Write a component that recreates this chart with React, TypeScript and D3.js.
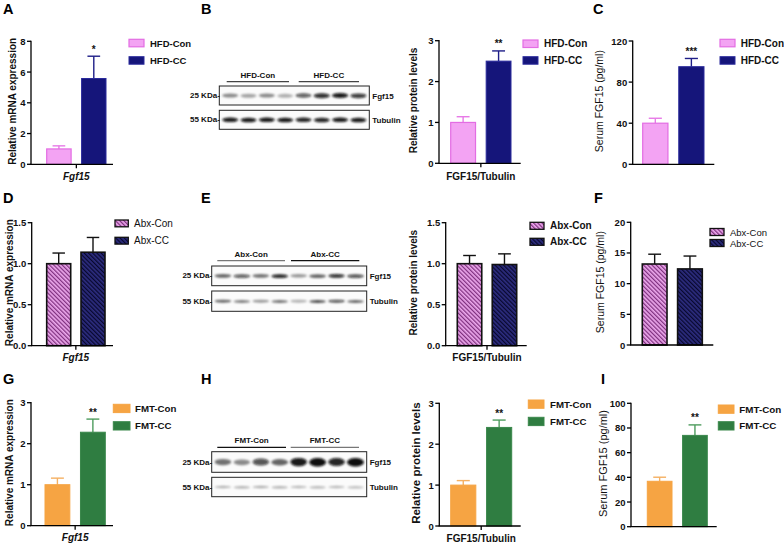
import React from "react";
import * as d3 from "d3";

const FONT = "'Liberation Sans', Arial, Helvetica, sans-serif";

// ---------- groups ----------
const hfdGroups = ["HFD-Con", "HFD-CC"];
const abxGroups = ["Abx-Con", "Abx-CC"];
const fmtGroups = ["FMT-Con", "FMT-CC"];

// ---------- A: HFD mRNA ----------
const hfdMrna = [1.0, 5.58];
const hfdMrnaErr = [0.2, 1.45];
const hfdMrnaTicks = [0, 2, 4, 6, 8];
// ---------- B: HFD protein ----------
const hfdProtein = [1.0, 2.5];
const hfdProteinErr = [0.14, 0.25];
const hfdProteinTicks = [0, 1, 2, 3];
// ---------- C: HFD serum ----------
const hfdSerum = [40, 95];
const hfdSerumErr = [4.8, 8];
const hfdSerumTicks = [0, 40, 80, 120];
// ---------- D: Abx mRNA ----------
const abxMrna = [1.0, 1.14];
const abxMrnaErr = [0.13, 0.18];
const abxMrnaTicks = [0, 0.5, 1.0, 1.5];
// ---------- E: Abx protein ----------
const abxProtein = [1.0, 0.99];
const abxProteinErr = [0.1, 0.13];
const abxProteinTicks = [0, 0.5, 1.0, 1.5];
// ---------- F: Abx serum ----------
const abxSerum = [13.2, 12.4];
const abxSerumErr = [1.6, 2.1];
const abxSerumTicks = [0, 5, 10, 15, 20];
// ---------- G: FMT mRNA ----------
const fmtMrna = [1.0, 2.28];
const fmtMrnaErr = [0.16, 0.32];
const fmtMrnaTicks = [0, 1, 2, 3];
// ---------- H: FMT protein ----------
const fmtProtein = [1.0, 2.41];
const fmtProteinErr = [0.11, 0.18];
const fmtProteinTicks = [0, 1, 2, 3];
// ---------- I: FMT serum ----------
const fmtSerum = [36.8, 74];
const fmtSerumErr = [3.3, 8.5];
const fmtSerumTicks = [0, 20, 40, 60, 80, 100];

// significance marks
const sigA = "*";
const sigB = "**";
const sigC = "***";
const sigG = "**";
const sigH = "**";
const sigI = "**";

// ---------- western blot band intensities (8 lanes) ----------
const hfdBlotFgf15 = [0.45, 0.35, 0.45, 0.3, 0.65, 0.85, 0.95, 0.8];
const hfdBlotTubulin = [0.95, 0.95, 0.95, 0.95, 0.9, 0.9, 0.95, 0.95];
const abxBlotFgf15 = [0.6, 0.65, 0.55, 0.9, 0.4, 0.6, 0.85, 0.7];
const abxBlotTubulin = [0.6, 0.5, 0.4, 0.55, 0.3, 0.7, 0.7, 0.6];
const fmtBlotFgf15 = [0.55, 0.45, 0.7, 0.6, 0.95, 1, 0.9, 1];
const fmtBlotTubulin = [0.3, 0.3, 0.32, 0.3, 0.28, 0.28, 0.28, 0.25];

type GStyle = { fill: string; stroke: string; sw: number; err: string };

const hfdStyles: GStyle[] = [
  { fill: "#F3A3F3", stroke: "#E36DE3", sw: 1.2, err: "#E77AE7" },
  { fill: "#15157A", stroke: "#2A2A9C", sw: 1.0, err: "#1E1E88" },
];
const abxStyles: GStyle[] = [
  { fill: "url(#hatchPink)", stroke: "#111", sw: 1.6, err: "#111" },
  { fill: "url(#hatchNavy)", stroke: "#111", sw: 1.6, err: "#111" },
];
const fmtStyles: GStyle[] = [
  { fill: "#F6A443", stroke: "#F6A443", sw: 1.0, err: "#F5B062" },
  { fill: "#2F7D41", stroke: "#3A874B", sw: 1.0, err: "#4E9C5E" },
];

function BarPanel(p: any) {
  const y = d3.scaleLinear().domain([0, p.max]).range([p.yBot, p.yTop]);
  const x = d3
    .scaleBand<string>()
    .domain(p.groups)
    .range([p.barL, p.barR])
    .paddingInner(0.3)
    .paddingOuter(0);
  const bw = x.bandwidth();
  const mid = (x(p.groups[0])! + bw + x(p.groups[1])!) / 2;
  const fmt = p.fmt || ((d: number) => String(d));
  const tickFs = p.tickFs || 9.5;
  return (
    <g>
      {p.groups.map((g: string, i: number) => {
        const st: GStyle = p.styles[i];
        const v = p.values[i];
        const e = p.errs[i];
        const cx = x(g)! + bw / 2;
        const cap = bw * 0.26;
        return (
          <g key={g}>
            <line x1={cx} x2={cx} y1={y(v)} y2={y(v + e)} stroke={st.err} strokeWidth={1.4} />
            <line x1={cx - cap} x2={cx + cap} y1={y(v + e)} y2={y(v + e)} stroke={st.err} strokeWidth={1.4} />
            <rect
              x={x(g)!}
              y={y(v)}
              width={bw}
              height={p.yBot - y(v)}
              fill={st.fill}
              stroke={st.stroke}
              strokeWidth={st.sw}
            />
            {p.sig && i === 1 ? (
              <text
                x={cx}
                y={y(v + e) - 3.5}
                textAnchor="middle"
                fontFamily={FONT}
                fontWeight="bold"
                fontSize={10}
                fill="#111"
              >
                {p.sig}
              </text>
            ) : null}
          </g>
        );
      })}
      <line x1={p.x0} x2={p.x0} y1={p.yTop - 0.6} y2={p.yBot} stroke="#000" strokeWidth={1.3} />
      {p.ticks.map((t: number) => (
        <g key={t}>
          <line x1={p.x0 - 4} x2={p.x0} y1={y(t)} y2={y(t)} stroke="#000" strokeWidth={1.3} />
          <text
            x={p.x0 - 5.5}
            y={y(t)}
            textAnchor="end"
            dominantBaseline="central"
            fontFamily={FONT}
            fontWeight="bold"
            fontSize={tickFs}
            fill="#111"
          >
            {fmt(t)}
          </text>
        </g>
      ))}
      <line x1={p.x0 - 0.65} x2={p.xEnd} y1={p.yBot} y2={p.yBot} stroke="#000" strokeWidth={1.3} />
      {p.xLabel ? (
        <>
          <line x1={mid} x2={mid} y1={p.yBot} y2={p.yBot + 4} stroke="#000" strokeWidth={1.3} />
          <text
            x={mid}
            y={p.xLabelY}
            textAnchor="middle"
            dominantBaseline="central"
            fontFamily={FONT}
            fontWeight="bold"
            fontStyle={p.xLabelItalic ? "italic" : "normal"}
            fontSize={10}
            fill="#111"
          >
            {p.xLabel}
          </text>
        </>
      ) : null}
      <text
        transform={`translate(${p.titleX},${(p.yTop + p.yBot) / 2 - 1.5}) rotate(-90)`}
        textAnchor="middle"
        dominantBaseline="central"
        fontFamily={FONT}
        fontWeight={p.titleWeight || "bold"}
        fontSize={p.titleFs || 10}
        fill="#111"
      >
        {p.title}
      </text>
      {p.groups.map((g: string, i: number) => {
        const st: GStyle = p.styles[i];
        const ly = p.legYs[i];
        return (
          <g key={"l" + g}>
            <rect
              x={p.legX}
              y={ly}
              width={p.legW}
              height={p.legH}
              fill={st.fill}
              stroke={st.stroke}
              strokeWidth={Math.min(st.sw, 1.3)}
            />
            <text
              x={p.legTextX}
              y={ly + p.legH / 2}
              dominantBaseline="central"
              fontFamily={FONT}
              fontWeight={p.legWeight || "bold"}
              fontSize={p.legFs || 10}
              fill="#111"
            >
              {g}
            </text>
          </g>
        );
      })}
    </g>
  );
}

function Blot(p: any) {
  const lanes = d3
    .scaleBand<number>()
    .domain(d3.range(8))
    .range([p.boxL + 1, p.boxR - 1])
    .paddingInner(0.12)
    .paddingOuter(0.1);
  const bw = lanes.bandwidth();
  const rows = [
    { t: p.box1[0], b: p.box1[1], vals: p.fgf, h: p.fgfH, label: "Fgf15", kda: "25 KDa-" },
    { t: p.box2[0], b: p.box2[1], vals: p.tub, h: p.tubH, label: "Tubulin", kda: "55 KDa-" },
  ];
  return (
    <g fontFamily={FONT} fontWeight="bold" fill="#111">
      {p.headers.map((h: string, i: number) => {
        const [a, b] = p.segs[i];
        return (
          <g key={h}>
            <text x={(a + b) / 2} y={p.headY} textAnchor="middle" dominantBaseline="central" fontSize={8}>
              {h}
            </text>
            <line x1={a} x2={b} y1={p.lineY} y2={p.lineY} stroke={p.segColors[i]} strokeWidth={1.3} />
          </g>
        );
      })}
      {rows.map((r, ri) => {
        const cy = (r.t + r.b) / 2;
        return (
          <g key={ri}>
            <rect x={p.boxL} y={r.t} width={p.boxR - p.boxL} height={r.b - r.t} fill="#fbfbfb" stroke="#222" strokeWidth={1} />
            <g filter="url(#bandBlur)">
              {r.vals.map((v: number, i: number) => (
                <ellipse
                  key={i}
                  cx={lanes(i)! + bw / 2}
                  cy={cy + (i % 2 === 0 ? 0 : 0.3)}
                  rx={bw / 2}
                  ry={r.h / 2 + (ri === 0 ? v * p.fgfGrow : 0)}
                  fill="#0a0a0a"
                  opacity={v}
                />
              ))}
            </g>
            <text x={p.boxR + 3} y={cy + 0.5} dominantBaseline="central" fontSize={8}>
              {r.label}
            </text>
            <text x={p.boxL + 0.5} y={cy} textAnchor="end" dominantBaseline="central" fontSize={8}>
              {r.kda}
            </text>
          </g>
        );
      })}
    </g>
  );
}

function Letter({ x, y, t }: { x: number; y: number; t: string }) {
  return (
    <text x={x} y={y} fontFamily={FONT} fontWeight="bold" fontSize={14.5} fill="#000">
      {t}
    </text>
  );
}

export default function App() {
  const dec1 = (d: number) => d.toFixed(1);
  return (
    <svg
      width={784}
      height={543}
      viewBox="0 0 784 543"
      style={{ position: "absolute", left: 0, top: 0, background: "#fff" }}
    >
      <defs>
        <pattern id="hatchPink" width="3" height="3" patternUnits="userSpaceOnUse" patternTransform="rotate(-45)">
          <rect width="3" height="3" fill="#ECA8EC" />
          <line x1="0.6" y1="0" x2="0.6" y2="3" stroke="#7E2F7E" strokeWidth="1.3" />
        </pattern>
        <pattern id="hatchNavy" width="3" height="3" patternUnits="userSpaceOnUse" patternTransform="rotate(-45)">
          <rect width="3" height="3" fill="#2D2D80" />
          <line x1="0.6" y1="0" x2="0.6" y2="3" stroke="#08082E" strokeWidth="1.3" />
        </pattern>
        <filter id="bandBlur" x="-20%" y="-100%" width="140%" height="300%">
          <feGaussianBlur stdDeviation="0.9" />
        </filter>
      </defs>
      <rect width={784} height={543} fill="#fff" />

      <Letter x={3} y={14} t="A" />
      <Letter x={201} y={14} t="B" />
      <Letter x={593} y={14} t="C" />
      <Letter x={3} y={203} t="D" />
      <Letter x={201} y={203} t="E" />
      <Letter x={594} y={203} t="F" />
      <Letter x={3} y={384} t="G" />
      <Letter x={201} y={384} t="H" />
      <Letter x={601} y={384} t="I" />

      <BarPanel
        groups={hfdGroups} values={hfdMrna} errs={hfdMrnaErr} styles={hfdStyles} sig={sigA}
        x0={31} yTop={41.3} yBot={164.3} max={8} ticks={hfdMrnaTicks}
        barL={46.7} barR={106} xEnd={113} xLabel="Fgf15" xLabelItalic xLabelY={176}
        title="Relative mRNA expression" titleX={12.5}
        legX={129} legYs={[39.3, 56.7]} legW={15} legH={7.5} legTextX={150} legFs={9.5}
      />
      <BarPanel
        groups={hfdGroups} values={hfdProtein} errs={hfdProteinErr} styles={hfdStyles} sig={sigB}
        x0={439} yTop={40.7} yBot={163.3} max={3} ticks={hfdProteinTicks}
        barL={450.7} barR={511} xEnd={520.7} xLabel="FGF15/Tubulin" xLabelY={176}
        title="Relative protein levels" titleX={413}
        legX={523} legYs={[40, 56.7]} legW={15} legH={7.5} legTextX={544} legFs={10}
      />
      <BarPanel
        groups={hfdGroups} values={hfdSerum} errs={hfdSerumErr} styles={hfdStyles} sig={sigC}
        x0={632.7} yTop={41} yBot={164.3} max={120} ticks={hfdSerumTicks}
        barL={642.7} barR={704} xEnd={714.3}
        title="Serum FGF15 (pg/ml)" titleX={599} titleWeight="normal" titleFs={10.5}
        legX={720} legYs={[39.3, 56.7]} legW={15} legH={7.5} legTextX={740.7} legFs={10}
      />
      <BarPanel
        groups={abxGroups} values={abxMrna} errs={abxMrnaErr} styles={abxStyles} fmt={dec1}
        x0={31.7} yTop={222.7} yBot={345.7} max={1.5} ticks={abxMrnaTicks}
        barL={46.7} barR={105} xEnd={113} xLabel="Fgf15" xLabelItalic xLabelY={357}
        title="Relative mRNA expression" titleX={9}
        legX={115} legYs={[220, 237.3]} legW={13.3} legH={6.8} legTextX={134} legFs={10} legWeight="normal"
      />
      <BarPanel
        groups={abxGroups} values={abxProtein} errs={abxProteinErr} styles={abxStyles} fmt={dec1}
        x0={445.7} yTop={222.7} yBot={345.7} max={1.5} ticks={abxProteinTicks}
        barL={457.3} barR={516.7} xEnd={526.7} xLabel="FGF15/Tubulin" xLabelY={357}
        title="Relative protein levels" titleX={413}
        legX={530} legYs={[222.3, 238.3]} legW={14} legH={7} legTextX={550} legFs={10}
      />
      <BarPanel
        groups={abxGroups} values={abxSerum} errs={abxSerumErr} styles={abxStyles}
        x0={630.7} yTop={222.3} yBot={345} max={20} ticks={abxSerumTicks}
        barL={642.3} barR={702.3} xEnd={713.3}
        title="Serum FGF15 (pg/ml)" titleX={600} titleWeight="normal" titleFs={10.5}
        legX={710} legYs={[228.5, 239.5]} legW={14} legH={7} legTextX={730} legFs={9.5} legWeight="normal"
      />
      <BarPanel
        groups={fmtGroups} values={fmtMrna} errs={fmtMrnaErr} styles={fmtStyles} sig={sigG}
        x0={31} yTop={402.7} yBot={525.7} max={3} ticks={fmtMrnaTicks}
        barL={45} barR={105.3} xEnd={113} xLabel="Fgf15" xLabelItalic xLabelY={537.5}
        title="Relative mRNA expression" titleX={9}
        legX={113.3} legYs={[404.3, 421.7]} legW={16.7} legH={8.3} legTextX={135} legFs={9.7}
      />
      <BarPanel
        groups={fmtGroups} values={fmtProtein} errs={fmtProteinErr} styles={fmtStyles} sig={sigH}
        x0={439.3} yTop={403.3} yBot={526} max={3} ticks={fmtProteinTicks}
        barL={450.7} barR={511.7} xEnd={520.7} xLabel="FGF15/Tubulin" xLabelY={538}
        title="Relative protein levels" titleX={415.5} titleFs={11.5}
        legX={528.3} legYs={[400, 417.3]} legW={15.7} legH={8.3} legTextX={550} legFs={9.7}
      />
      <BarPanel
        groups={fmtGroups} values={fmtSerum} errs={fmtSerumErr} styles={fmtStyles} sig={sigI}
        x0={631} yTop={403.3} yBot={526.7} max={100} ticks={fmtSerumTicks}
        barL={647.3} barR={707.3} xEnd={716.7}
        title="Serum FGF15 (pg/ml)" titleX={602.5} titleWeight="normal" titleFs={11}
        legX={718.3} legYs={[405, 421.7]} legW={15.7} legH={8.3} legTextX={739.3} legFs={9.8}
      />

      <Blot
        headers={hfdGroups} headY={75} lineY={81.7}
        segs={[[226.7, 289], [298.7, 359]]} segColors={["#444", "#444"]}
        boxL={219.3} boxR={369.3} box1={[86, 105]} box2={[110.3, 129.3]}
        fgf={hfdBlotFgf15} tub={hfdBlotTubulin} fgfH={3.5} tubH={4.5} fgfGrow={0.8}
      />
      <Blot
        headers={abxGroups} headY={254} lineY={260.7}
        segs={[[217.3, 285], [291, 359.3]]} segColors={["#777", "#111"]}
        boxL={211.7} boxR={366.7} box1={[266, 285.7]} box2={[291, 311.3]}
        fgf={abxBlotFgf15} tub={abxBlotTubulin} fgfH={3.2} tubH={3} fgfGrow={0.4}
      />
      <Blot
        headers={fmtGroups} headY={440} lineY={447.3}
        segs={[[217.3, 286], [290.7, 359]]} segColors={["#111", "#777"]}
        boxL={211.7} boxR={366.7} box1={[451.7, 472.3]} box2={[477.3, 496.7]}
        fgf={fmtBlotFgf15} tub={fmtBlotTubulin} fgfH={3.5} tubH={2.4} fgfGrow={2.5}
      />
    </svg>
  );
}
